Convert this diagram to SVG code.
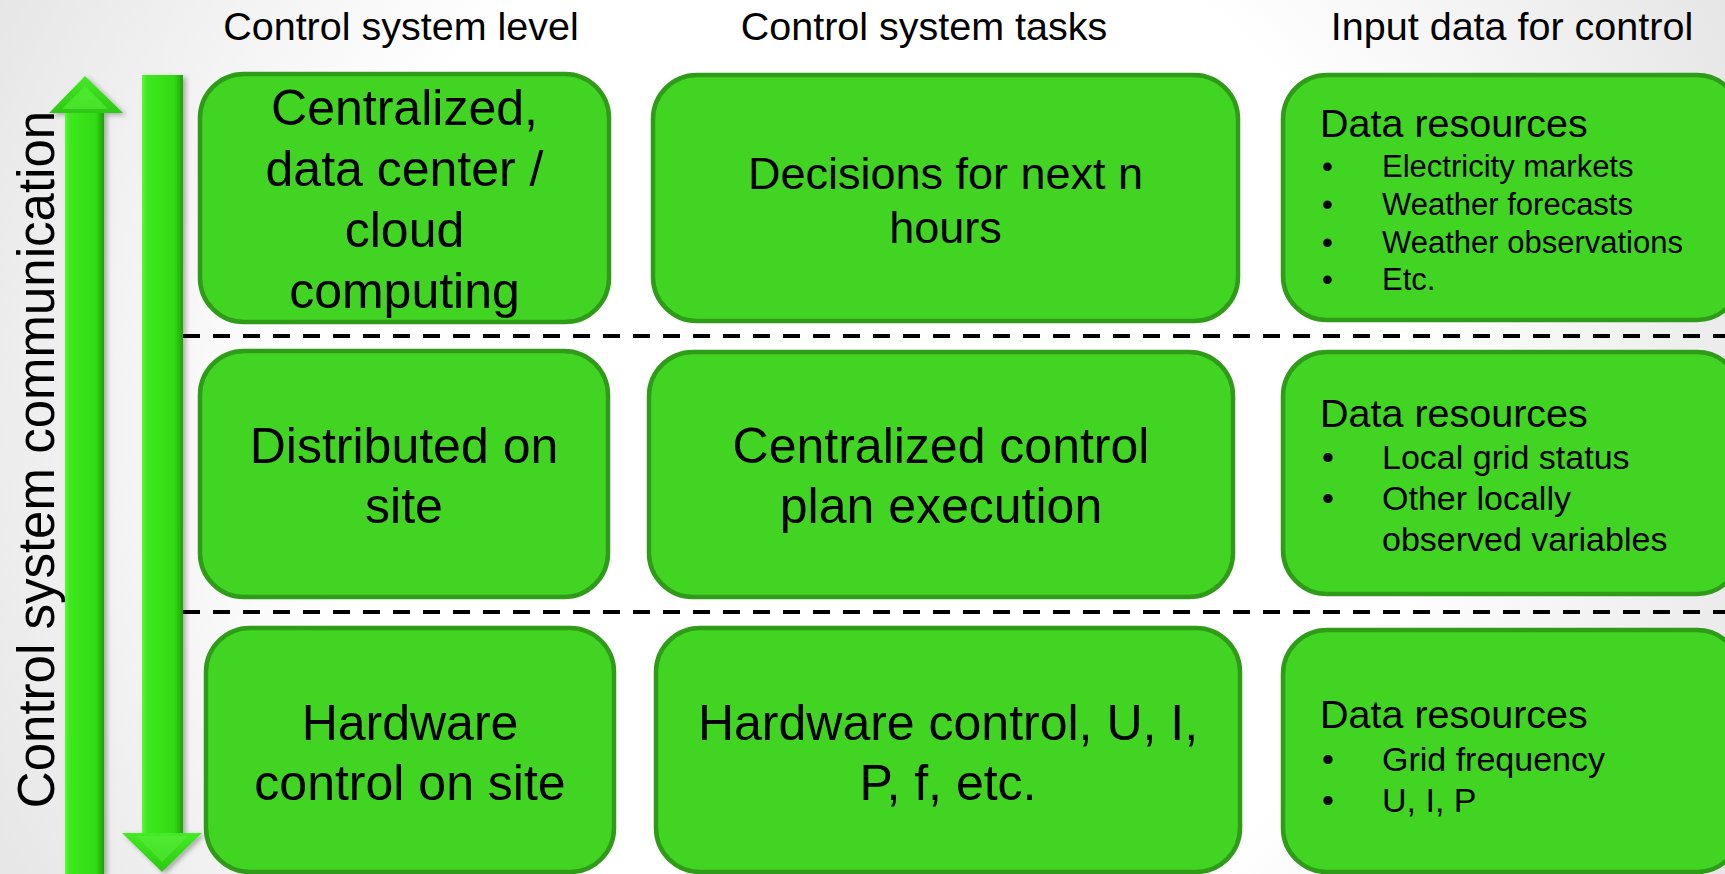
<svg xmlns="http://www.w3.org/2000/svg" width="1725" height="874" viewBox="0 0 1725 874">
  <defs>
    <radialGradient id="bg" cx="860" cy="437" r="1000" gradientUnits="userSpaceOnUse">
      <stop offset="0.55" stop-color="#ffffff"/>
      <stop offset="1" stop-color="#e4e4e4"/>
    </radialGradient>
    <linearGradient id="shaft" x1="0" y1="0" x2="1" y2="0">
      <stop offset="0" stop-color="#5cf83c"/>
      <stop offset="0.12" stop-color="#3ee81e"/>
      <stop offset="0.8" stop-color="#30da12"/>
      <stop offset="1" stop-color="#1f9f0b"/>
    </linearGradient>
    <linearGradient id="head" x1="0" y1="0" x2="0" y2="1">
      <stop offset="0" stop-color="#45ea26"/>
      <stop offset="1" stop-color="#2cc812"/>
    </linearGradient>
    <filter id="shadow" x="-30%" y="-5%" width="160%" height="110%">
      <feDropShadow dx="3" dy="2" stdDeviation="2.5" flood-color="#000" flood-opacity="0.3"/>
    </filter>
  </defs>
  <style>
    .box { fill: #41d423; stroke: #2f9b19; stroke-width: 4.5; }
    .txt { font-family: "Liberation Sans", Arial, sans-serif; fill: #000; }
    .big { font-size: 50px; text-anchor: middle; }
    .head { font-size: 39.5px; }
    .hdr { font-size: 39.5px; text-anchor: middle; }
    .sep { stroke: #000; stroke-width: 4; stroke-dasharray: 17 13; fill: none; }
  </style>

  <!-- slide background -->
  <rect x="0" y="0" width="1725" height="874" fill="url(#bg)"/>

  <!-- column headings -->
  <g id="headings" class="txt">
    <text class="hdr" x="401" y="40">Control system level</text>
    <text class="hdr" x="924" y="40">Control system tasks</text>
    <text class="hdr" x="1512" y="40">Input data for control</text>
  </g>

  <!-- vertical communication axis -->
  <g id="communication">
    <text class="txt" x="53.5" y="459.5" font-size="51" text-anchor="middle" transform="rotate(-90 53.5 459.5)">Control system communication</text>
    <g filter="url(#shadow)">
      <!-- upward arrow -->
      <rect x="65" y="112" width="39" height="762" fill="url(#shaft)"/>
      <polygon points="85,76 123,113 49,113" fill="url(#head)"/>
      <polygon points="85,86 108,109 62,109" fill="#5af03b" opacity="0.6"/>
      <!-- downward arrow -->
      <rect x="142" y="75" width="41" height="759" fill="url(#shaft)"/>
      <polygon points="122,833 202,833 162,872" fill="url(#head)"/>
      <polygon points="136,836 188,836 162,862" fill="#5af03b" opacity="0.5"/>
    </g>
  </g>

  <!-- level separators -->
  <g id="connectors">
    <line class="sep" x1="183" y1="336" x2="1725" y2="336"/>
    <line class="sep" x1="183" y1="612" x2="1725" y2="612"/>
  </g>

  <!-- level: data center -->
  <g id="level-central" class="txt">
    <rect class="box" x="200" y="74" width="409" height="248" rx="44"/>
    <text class="big" x="404.5" y="125">Centralized,</text>
    <text class="big" x="404.5" y="186">data center /</text>
    <text class="big" x="404.5" y="247">cloud</text>
    <text class="big" x="404.5" y="308">computing</text>
  </g>
  <g id="task-central" class="txt">
    <rect class="box" x="653" y="75" width="585" height="246" rx="44"/>
    <text x="945.5" y="189" font-size="45" text-anchor="middle">Decisions for next n</text>
    <text x="945.5" y="243" font-size="45" text-anchor="middle">hours</text>
  </g>
  <g id="input-central" class="txt">
    <rect class="box" x="1283" y="75" width="458" height="245" rx="44"/>
    <text class="head" x="1320" y="137">Data resources</text>
    <g font-size="31">
      <text x="1322" y="177">•</text><text x="1382" y="177">Electricity markets</text>
      <text x="1322" y="215">•</text><text x="1382" y="215">Weather forecasts</text>
      <text x="1322" y="253">•</text><text x="1382" y="253">Weather observations</text>
      <text x="1322" y="290">•</text><text x="1382" y="290">Etc.</text>
    </g>
  </g>

  <!-- level: site -->
  <g id="level-site" class="txt">
    <rect class="box" x="200" y="351" width="408" height="246" rx="44"/>
    <text class="big" x="404" y="463">Distributed on</text>
    <text class="big" x="404" y="523">site</text>
  </g>
  <g id="task-site" class="txt">
    <rect class="box" x="649" y="352" width="584" height="245" rx="44"/>
    <text class="big" x="941" y="463">Centralized control</text>
    <text class="big" x="941" y="523">plan execution</text>
  </g>
  <g id="input-site" class="txt">
    <rect class="box" x="1283" y="352" width="458" height="242" rx="44"/>
    <text class="head" x="1320" y="427">Data resources</text>
    <g font-size="34">
      <text x="1322" y="469">•</text><text x="1382" y="469">Local grid status</text>
      <text x="1322" y="510">•</text><text x="1382" y="510">Other locally</text>
      <text x="1382" y="551">observed variables</text>
    </g>
  </g>

  <!-- level: hardware -->
  <g id="level-hardware" class="txt">
    <rect class="box" x="206" y="628" width="408" height="244" rx="44"/>
    <text class="big" x="410" y="740">Hardware</text>
    <text class="big" x="410" y="800">control on site</text>
  </g>
  <g id="task-hardware" class="txt">
    <rect class="box" x="656" y="628" width="584" height="244" rx="44"/>
    <text class="big" x="948" y="740">Hardware control, U, I,</text>
    <text class="big" x="948" y="800">P, f, etc.</text>
  </g>
  <g id="input-hardware" class="txt">
    <rect class="box" x="1283" y="630" width="458" height="242" rx="44"/>
    <text class="head" x="1320" y="728">Data resources</text>
    <g font-size="34">
      <text x="1322" y="771">•</text><text x="1382" y="771">Grid frequency</text>
      <text x="1322" y="812">•</text><text x="1382" y="812">U, I, P</text>
    </g>
  </g>
</svg>
